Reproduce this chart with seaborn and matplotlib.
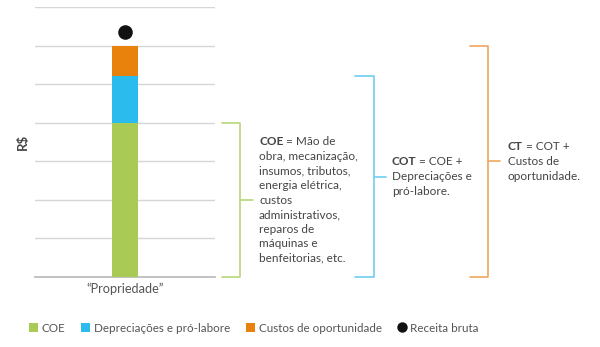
import matplotlib
matplotlib.use("Agg")
import matplotlib.pyplot as plt
import matplotlib.transforms as mtransforms
from matplotlib.lines import Line2D
from matplotlib.patches import Patch
import seaborn as sns
import pandas as pd

categories = ["“Propriedade”"]
coe = [4.0]
depreciacoes = [1.2]
custos_oportunidade = [0.8]
receita_bruta = [6.35]
series_names = ["COE", "Depreciações e pró-labore", "Custos de oportunidade", "Receita bruta"]
colors = ["#a9cb56", "#2bbbec", "#e8820c", "#111111"]
bracket_colors = ["#b9d57a", "#6fcdf0", "#efa760"]

sns.set_theme(style="white")
plt.rcParams["font.family"] = ["Lato", "DejaVu Sans"]

fig = plt.figure(figsize=(6, 3.47), dpi=100)
ax = fig.add_axes([35/600, 1 - 277/347, 180/600, 270/347])

cum1 = [a for a in coe]
cum2 = [a + b for a, b in zip(coe, depreciacoes)]
cum3 = [a + b + c for a, b, c in zip(coe, depreciacoes, custos_oportunidade)]
df = pd.DataFrame({"cat": categories, "c1": cum1, "c2": cum2, "c3": cum3, "rb": receita_bruta})

for col, color in [("c3", colors[2]), ("c2", colors[1]), ("c1", colors[0])]:
    sns.barplot(data=df, x="cat", y=col, color=color, width=0.145, ax=ax,
                saturation=1, linewidth=0, zorder=3)
sns.scatterplot(data=df, x="cat", y="rb", color=colors[3], s=110, ax=ax,
                zorder=4, linewidth=0, legend=False)

ax.set_xlim(-0.5, 0.5)
ax.set_ylim(0, 7)
ax.set_yticks(range(0, 8))
ax.set_yticklabels([])
ax.tick_params(axis="y", length=0)
ax.tick_params(axis="x", length=0, labelsize=9.2, labelcolor="#555555", pad=4)
ax.grid(axis="y", color="#d6d6d6", linewidth=1)
ax.set_axisbelow(True)
for s in ["top", "right", "left"]:
    ax.spines[s].set_visible(False)
ax.spines["bottom"].set_color("#bbbbbb")
ax.set_xlabel("")
ax.set_ylabel("R$", fontsize=9.5, fontweight="bold", color="#444444", labelpad=1)

trans = mtransforms.blended_transform_factory(ax.transAxes, ax.transData)

def bracket(x0, x1, x2, y0, y1, color):
    ax.plot([x0, x1, x1, x0], [y1, y1, y0, y0], color=color, lw=1.2,
            transform=trans, clip_on=False)
    ym = (y0 + y1) / 2
    ax.plot([x1, x2], [ym, ym], color=color, lw=1.2, transform=trans, clip_on=False)

bracket(1.039, 1.139, 1.211, 0, cum1[0], bracket_colors[0])
bracket(1.778, 1.883, 1.95, 0, cum2[0], bracket_colors[1])
bracket(2.417, 2.517, 2.583, 0, cum3[0], bracket_colors[2])

tc = "#444444"
fs = 8.5

def rich(x, y, bold, rest_first, rest_lines):
    t = fig.text(x/600, 1 - y/347, bold, fontsize=fs, color=tc, va="top", ha="left",
                 fontweight="bold")
    fig.canvas.draw()
    bb = t.get_window_extent()
    fig.text(bb.x1/600, 1 - y/347, " " + rest_first, fontsize=fs, color=tc,
             va="top", ha="left")
    fig.text(x/600, 1 - (y + 15)/347, "\n".join(rest_lines), fontsize=fs, color=tc,
             va="top", ha="left", linespacing=1.39)

rich(259, 136, "COE", "= Mão de",
     ["obra, mecanização,", "insumos, tributos,", "energia elétrica,", "custos",
      "administrativos,", "reparos de", "máquinas e", "benfeitorias, etc."])
rich(392, 156, "COT", "= COE +", ["Depreciações e", "pró-labore."])
rich(508, 141, "CT", "= COT +", ["Custos de", "oportunidade."])

handles = [Patch(facecolor=colors[0], edgecolor="none"),
           Patch(facecolor=colors[1], edgecolor="none"),
           Patch(facecolor=colors[2], edgecolor="none"),
           Line2D([], [], marker="o", linestyle="none", markersize=7.5,
                  markerfacecolor=colors[3], markeredgecolor="none")]
leg = fig.legend(handles, series_names, loc="center", bbox_to_anchor=(0.423, 1 - 328/347),
                 ncol=4, frameon=False, fontsize=8.4, handlelength=0.75, handleheight=0.75,
                 handletextpad=0.35, columnspacing=1.35, labelcolor="#555555")

fig.savefig("out.png", dpi=100)
